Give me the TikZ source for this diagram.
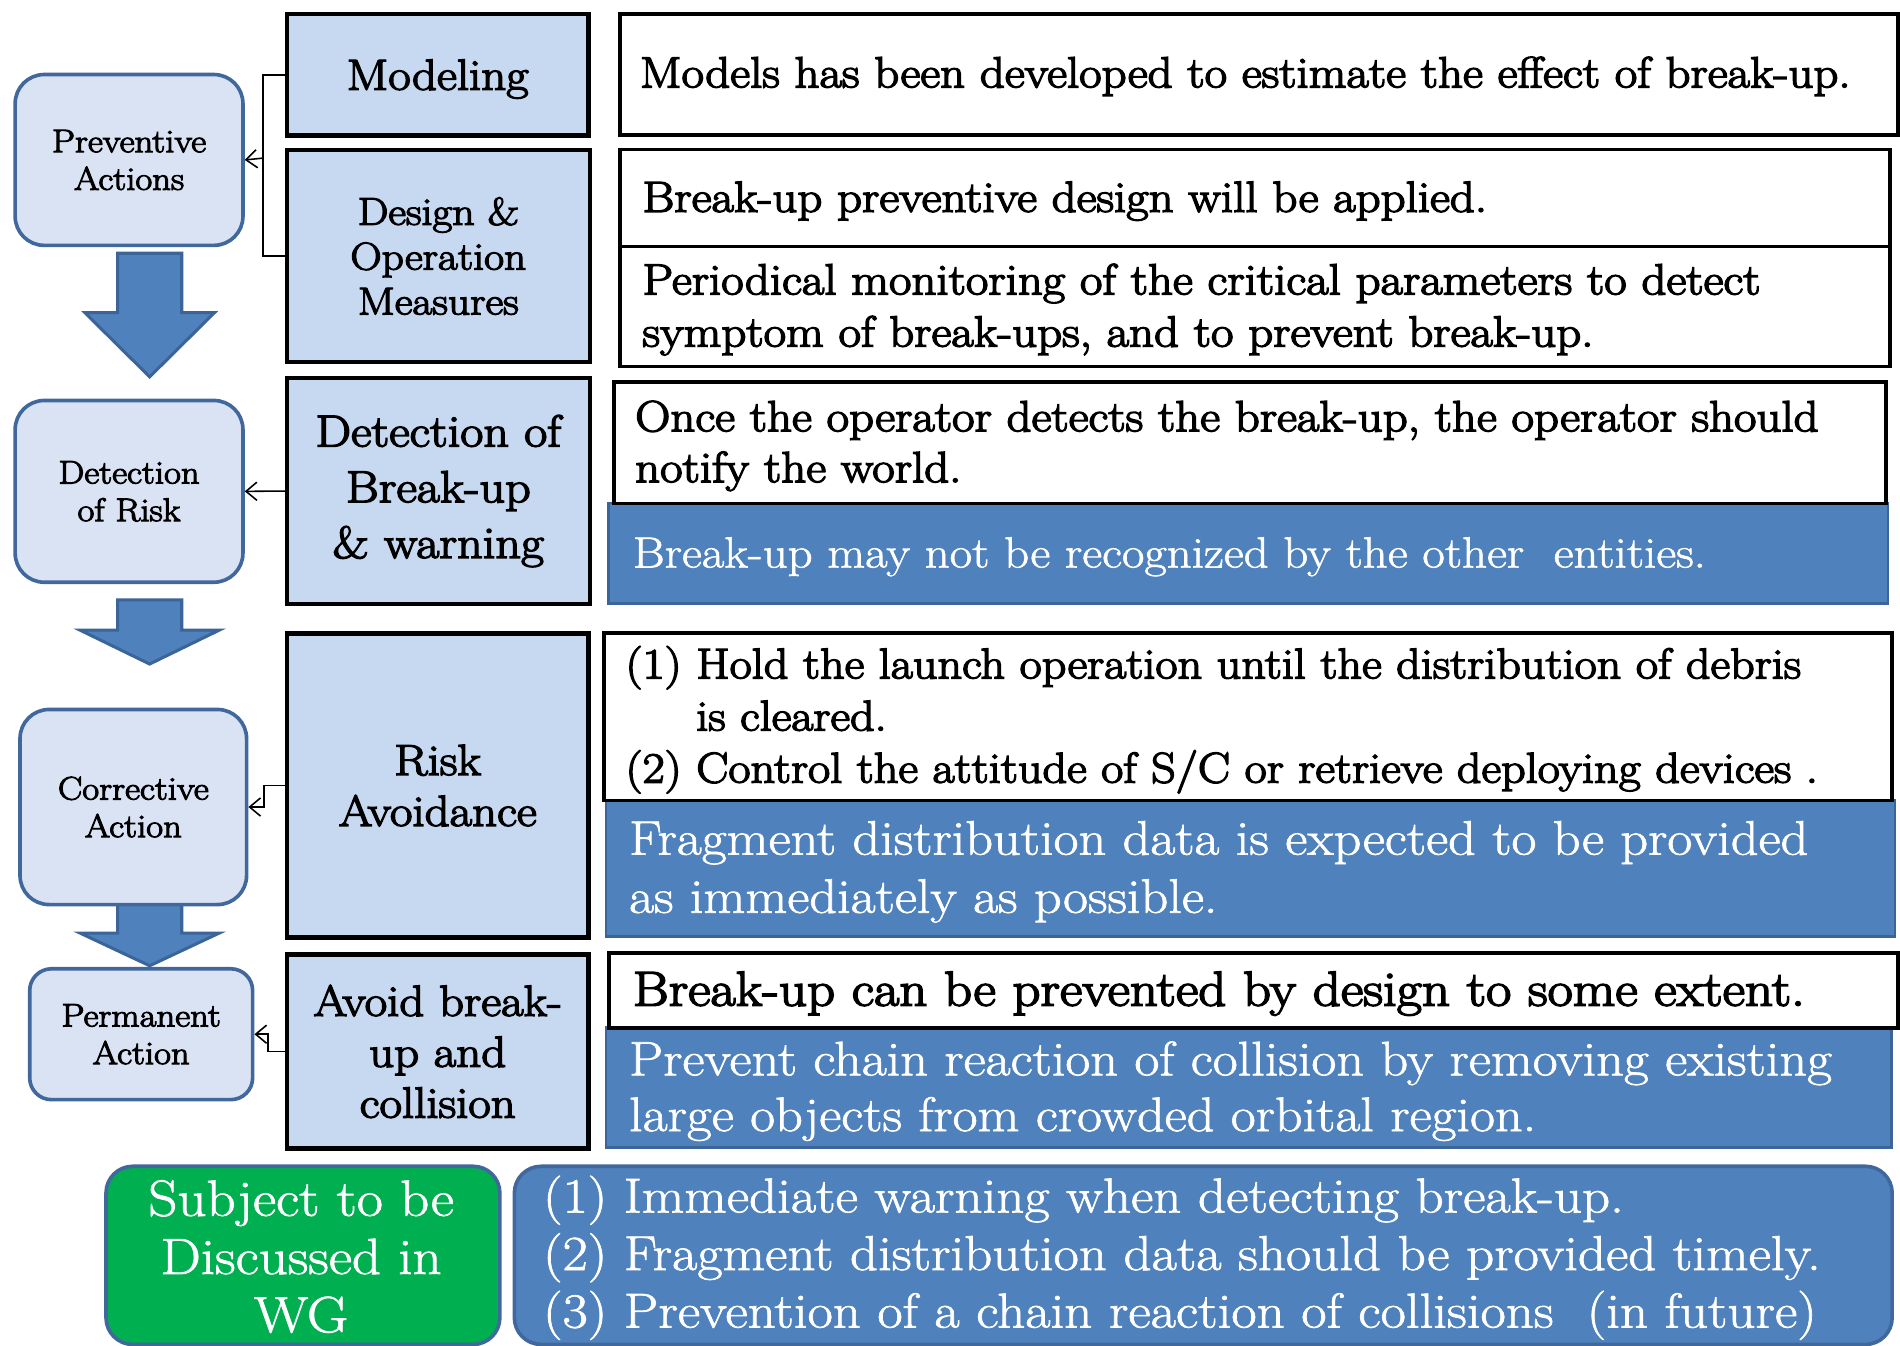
\documentclass[tikz,border=0pt]{standalone}
\usepackage{fontspec}
\usetikzlibrary{arrows.meta}
\newfontfamily\heavyrm{Latin Modern Roman}[FakeStretch=1.12, FakeBold=3.2]
\newfontfamily\plainrm{Latin Modern Roman}[FakeStretch=1.12, FakeBold=1.4]
\newcommand\fsz[2]{\fontsize{#1}{#2}\selectfont}
\definecolor{lbfill}{HTML}{DAE3F3}
\definecolor{lbdraw}{HTML}{41689C}
\definecolor{mbfill}{HTML}{C6D9F0}
\definecolor{bfill}{HTML}{4F81BD}
\definecolor{bdraw}{HTML}{3B6498}
\definecolor{gfill}{HTML}{00B050}
\tikzset{
  leftbox/.style={anchor=north west, rounded corners=24pt, fill=lbfill, draw=lbdraw,
    line width=3pt, align=center, inner sep=0pt, font=\heavyrm\fsz{27}{31}},
  midbox/.style={anchor=north west, fill=mbfill, draw=black, line width=3.5pt,
    align=center, inner sep=0pt, font=\heavyrm\fsz{36}{44}},
  wbox/.style={anchor=north west, fill=white, draw=black, line width=3pt, inner sep=0pt},
  bbox/.style={anchor=north west, fill=bfill, draw=bdraw, line width=2pt, inner sep=0pt},
  wtext/.style={anchor=west, align=left, inner sep=0pt, font=\heavyrm\fsz{36}{42}},
  btext/.style={anchor=west, align=left, inner sep=0pt, text=white, font=\plainrm\fsz{40}{48}},
  conn/.style={draw=black, line width=1.3pt},
  barb/.style={-{Straight Barb[length=9pt,width=15pt,line width=1.3pt]}},
  blockarrow/.style={fill=bfill, draw=bdraw, line width=2.5pt, line join=miter}
}
\begin{document}
\begin{tikzpicture}[x=1pt,y=-1pt]
\useasboundingbox (0,0) rectangle (1568,1110);

% block arrows between the stages
\draw[blockarrow] (97,209) -- (150,209) -- (150,258) -- (177,258) -- (123.5,311)
  -- (70,258) -- (97,258) -- cycle;
\draw[blockarrow] (97,495) -- (150,495) -- (150,520) -- (181,520) -- (123.5,548)
  -- (66,520) -- (97,520) -- cycle;
\draw[blockarrow] (97,746) -- (150,746) -- (150,770) -- (181,770) -- (123.5,797)
  -- (66,770) -- (97,770) -- cycle;

% stage boxes
\node[leftbox, minimum width=188pt, minimum height=141pt] (prev) at (11,60)
  {Preventive\\Actions};
\node[leftbox, minimum width=188pt, minimum height=150pt] (detr) at (11,329)
  {Detection\\of Risk};
\node[leftbox, minimum width=187pt, minimum height=161pt] (corr) at (15,584)
  {Corrective\\Action};
\node[leftbox, rounded corners=18pt, minimum width=184pt, minimum height=108pt] (perm) at (23,798)
  {Permanent\\Action};

% measure boxes
\node[midbox, minimum width=249pt, minimum height=100pt] (model) at (235,10)
  {\rule{0pt}{32pt}Modeling};
\node[midbox, minimum width=250pt, minimum height=175pt, font=\heavyrm\fsz{32}{37}] (design) at (235,122)
  {Design \&\\Operation\\Measures};
\node[midbox, minimum width=250pt, minimum height=187pt, font=\heavyrm\fsz{37}{46}] (detb) at (235,310)
  {Detection of\\Break-up\\\& warning};
\node[midbox, minimum width=249pt, minimum height=251pt, font=\heavyrm\fsz{36}{42}] (risk) at (235,521)
  {Risk\\Avoidance};
\node[midbox, minimum width=249pt, minimum height=160pt, font=\heavyrm\fsz{36}{42}] (avoid) at (235,786)
  {Avoid break-\\up and\\collision};

% connectors
\coordinate (pj) at (217,130.5);
\draw[conn] (model.west) -- (model.west -| pj) |- (design.west);
\draw[conn, barb] (pj) -- (prev.east);
\draw[conn, barb] (detb.west) -- (detr.east);
\draw[conn, barb] (risk.west) -- ++(-17,0) |- (corr.east);
\draw[conn, barb] (avoid.west) -- ++(-14,0) |- (perm.east);

% description boxes (blue ones first, framed white ones on top)
\node[wbox, minimum width=1055pt, minimum height=100pt] (d1) at (510,10) {};
\node[wbox, minimum width=1048pt, minimum height=80pt] (d2) at (510,122) {};
\node[wbox, minimum width=1048pt, minimum height=99pt] (d3) at (510,202) {};
\node[bbox, minimum width=1056pt, minimum height=83pt] (d5) at (501,414) {};
\node[wbox, minimum width=1050pt, minimum height=100pt] (d4) at (505,314) {};
\node[bbox, minimum width=1064pt, minimum height=113pt] (d7) at (499,659) {};
\node[wbox, minimum width=1063pt, minimum height=138pt] (d6) at (497,521) {};
\node[bbox, minimum width=1061pt, minimum height=99pt] (d9) at (499,847) {};
\node[wbox, minimum width=1064pt, minimum height=62pt] (d8) at (501,785) {};

% description texts
\node[wtext] (d1t) at (528,63)
  {Models has been developed to estimate the effect of break-up.};
\node[wtext] (d2t) at (530,166)
  {Break-up preventive design will be applied.};
\node[wtext, font=\heavyrm\fsz{36}{43}] (d3t) at (530,255.5)
  {Periodical monitoring of the critical parameters to detect\\symptom of break-ups, and to prevent break-up.};
\node[wtext] (d4t) at (524,368)
  {Once the operator detects the break-up, the operator should\\notify the world.};
\node[btext, font=\plainrm\fsz{36}{42}] (d5t) at (522,459.5)
  {Break-up may not be recognized by the other\ \ entities.};
\node[wtext, font=\heavyrm\fsz{35.5}{43}] (d6t) at (516,594)
  {(1) Hold the launch operation until the distribution of debris\\
   \hphantom{(1) }is cleared.\\
   (2) Control the attitude of S/C or retrieve deploying devices .};
\node[btext] (d7t) at (519,719.5)
  {Fragment distribution data is expected to be provided\\as immediately as possible.};
\node[wtext, font=\heavyrm\fsz{40.5}{46}] (d8t) at (522,820)
  {Break-up can be prevented by design to some extent.};
\node[btext, font=\plainrm\fsz{40}{46}] (d9t) at (519,900.5)
  {Prevent chain reaction of collision by removing existing\\large objects from crowded orbital region.};

% discussion items
\node[anchor=north west, rounded corners=22pt, fill=gfill, draw=lbdraw, line width=3pt,
  minimum width=325pt, minimum height=147pt, inner sep=0pt] (wg) at (86,961) {};
\node[anchor=center, align=center, inner sep=0pt, text=white, font=\plainrm\fsz{42}{48}] (wgt)
  at (248.5,1037) {Subject to be\\Discussed in\\WG};
\node[anchor=north west, rounded corners=22pt, fill=bfill, draw=lbdraw, line width=3pt,
  minimum width=1137pt, minimum height=147pt, inner sep=0pt] (items) at (423,961) {};
\node[btext, font=\plainrm\fsz{40.5}{47.5}] (itemst) at (448,1038)
  {(1) Immediate warning when detecting break-up.\\
   (2) Fragment distribution data should be provided timely.\\
   (3) Prevention of a chain reaction of collisions\ \ (in future)};
\end{tikzpicture}
\end{document}
